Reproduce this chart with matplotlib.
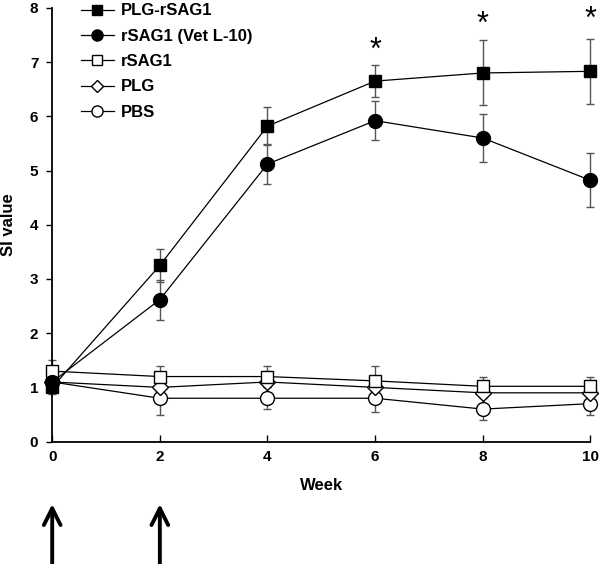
import matplotlib
matplotlib.use("Agg")
import matplotlib.pyplot as plt

plt.rcParams['font.family'] = ['Liberation Sans', 'DejaVu Sans']

weeks = [0, 2, 4, 6, 8, 10]

# group name -> (mean, sd)
plg_rsag1 = [1.0, 3.25, 5.82, 6.65, 6.8, 6.83]
plg_rsag1_err = [0.12, 0.3, 0.35, 0.3, 0.6, 0.6]
rsag1_vet = [1.1, 2.62, 5.12, 5.92, 5.6, 4.82]
rsag1_vet_err = [0.15, 0.37, 0.37, 0.36, 0.45, 0.5]
rsag1 = [1.3, 1.2, 1.2, 1.12, 1.02, 1.02]
rsag1_err = [0.2, 0.2, 0.2, 0.28, 0.18, 0.18]
plg = [1.1, 1.0, 1.1, 1.0, 0.9, 0.9]
plg_err = [0.15, 0.2, 0.2, 0.2, 0.2, 0.2]
pbs = [1.1, 0.8, 0.8, 0.8, 0.6, 0.7]
pbs_err = [0.15, 0.3, 0.2, 0.25, 0.2, 0.2]

star_weeks = [6, 8, 10]
star_y = [7.2, 7.68, 7.78]
boost_weeks = [0, 2]

series = [
    ("PLG-rSAG1", plg_rsag1, plg_rsag1_err, 's', 'black'),
    ("rSAG1 (Vet L-10)", rsag1_vet, rsag1_vet_err, 'o', 'black'),
    ("rSAG1", rsag1, rsag1_err, 's', 'white'),
    ("PLG", plg, plg_err, 'D', 'white'),
    ("PBS", pbs, pbs_err, 'o', 'white'),
]

fig = plt.figure(figsize=(6.0, 5.64), dpi=100)
ax = fig.add_axes([0.087, 0.217, 0.897, 0.769])

for name, vals, errs, mk, fc in series:
    eb = ax.errorbar(weeks, vals, yerr=errs, fmt='none', ecolor='#555555',
                     elinewidth=1, capsize=3, capthick=1, zorder=2)
    for part in eb.lines[1] + eb.lines[2]:
        part.set_clip_on(False)
for name, vals, errs, mk, fc in reversed(series):
    ms = 8 if mk == 'D' else 10
    if mk == 's':
        ms = 9
    ax.plot(weeks, vals, marker=mk, color='black', markerfacecolor=fc,
            markeredgecolor='black', markersize=ms, lw=0.9, label=name,
            zorder=3, clip_on=False)

for w, y in zip(star_weeks, star_y):
    ax.text(w, y, '*', ha='center', va='center', fontsize=22)

ax.set_xlim(0, 10)
ax.set_ylim(0, 8)
ax.set_xticks(weeks)
ax.set_yticks(range(0, 9))
ax.spines['top'].set_visible(False)
ax.spines['right'].set_visible(False)
ax.spines['left'].set_linewidth(1.3)
ax.spines['bottom'].set_linewidth(1.3)
ax.tick_params(axis='x', direction='in', length=5, width=1, labelsize=11, pad=6)
ax.tick_params(axis='y', direction='out', length=4, width=1, labelsize=11, pad=6)
for lbl in ax.get_xticklabels() + ax.get_yticklabels():
    lbl.set_fontweight('bold')
ax.set_xlabel("Week", fontsize=12, fontweight='bold', labelpad=10)
ax.set_ylabel("SI value", fontsize=12, fontweight='bold')
ax.yaxis.set_label_coords(-0.068, 0.5)

handles, labels = ax.get_legend_handles_labels()
order = [labels.index(s[0]) for s in series]
leg = ax.legend([handles[i] for i in order], [labels[i] for i in order],
                loc='upper left', bbox_to_anchor=(0.025, 1.045), frameon=False,
                prop={'weight': 'bold', 'size': 12}, handlelength=2.0,
                labelspacing=0.62, handletextpad=0.4, markerscale=0.8)

# immunisation arrows below the axis
for w in boost_weeks:
    ax.annotate('', xy=(w, -1.1), xytext=(w, -2.3), xycoords='data',
                annotation_clip=False,
                arrowprops=dict(arrowstyle='->', lw=2.8, color='black',
                                mutation_scale=30))

fig.savefig("out.png", dpi=100)
